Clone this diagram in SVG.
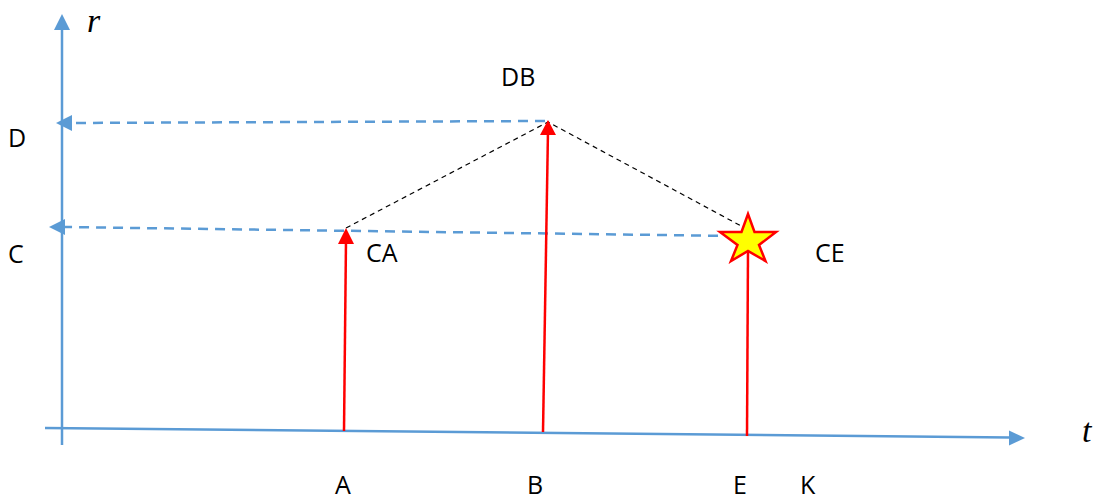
<svg xmlns="http://www.w3.org/2000/svg" width="1097" height="499" viewBox="0 0 1097 499">
<defs>
<style>
.axis{stroke:#5b9bd5;stroke-width:2.5;fill:none}
.guide{stroke:#5b9bd5;stroke-width:2.5;stroke-dasharray:10 7;fill:none}
.link{stroke:#000;stroke-width:1.2;stroke-dasharray:5 4;fill:none}
.ray{stroke:#ff0000;stroke-width:2.5;fill:none}
.lbl{font-family:"Open Sans","Liberation Sans",sans-serif;font-size:25px;fill:#000}
.var{font-family:"Liberation Serif",serif;font-style:italic;font-size:34px;fill:#000}
</style>
</defs>
<rect width="1097" height="499" fill="#fff"/>
<g id="axes">
<line class="axis" x1="62" y1="445" x2="62" y2="28"/>
<polygon points="62,14 54,30 70,30" fill="#5b9bd5"/>
<line class="axis" x1="45" y1="428" x2="1010" y2="437.5"/>
<polygon points="1025,438 1009,430.5 1009,445.5" fill="#5b9bd5"/>
</g>
<g id="connectors">
<line class="guide" x1="545" y1="121" x2="70" y2="123"/>
<polygon points="56,123 72,115 72,131" fill="#5b9bd5"/>
<line class="guide" x1="735" y1="236" x2="63" y2="227"/>
<polygon points="49,227 65,219 65,235" fill="#5b9bd5"/>
<polyline class="link" points="346,228 548,122 743,227"/>
<line class="ray" x1="344" y1="431" x2="346" y2="240"/>
<polygon points="346,228 338,244 354,244" fill="#ff0000"/>
<line class="ray" x1="543" y1="432" x2="548" y2="130"/>
<polygon points="548,120 540,135 556,135" fill="#ff0000"/>
<line class="ray" x1="747" y1="436" x2="748" y2="250"/>
</g>
<g id="star">
<polygon points="748,214 754.5,232 776,232 759,245 765.5,261 748,251 731,261 737.5,245 720,232 741.5,232" fill="#ffff00" stroke="#ff0000" stroke-width="2.5" stroke-linejoin="miter"/>
</g>
<g id="labels">
<text class="var" x="87" y="32">r</text>
<text class="var" x="1082" y="442">t</text>
<text class="lbl" x="501" y="86">DB</text>
<text class="lbl" x="8" y="147">D</text>
<text class="lbl" x="8" y="263">C</text>
<text class="lbl" x="366" y="262">CA</text>
<text class="lbl" x="815" y="262">CE</text>
<text class="lbl" x="335" y="494">A</text>
<text class="lbl" x="527" y="494">B</text>
<text class="lbl" x="733" y="494">E</text>
<text class="lbl" x="800" y="494">K</text>
</g>
</svg>
